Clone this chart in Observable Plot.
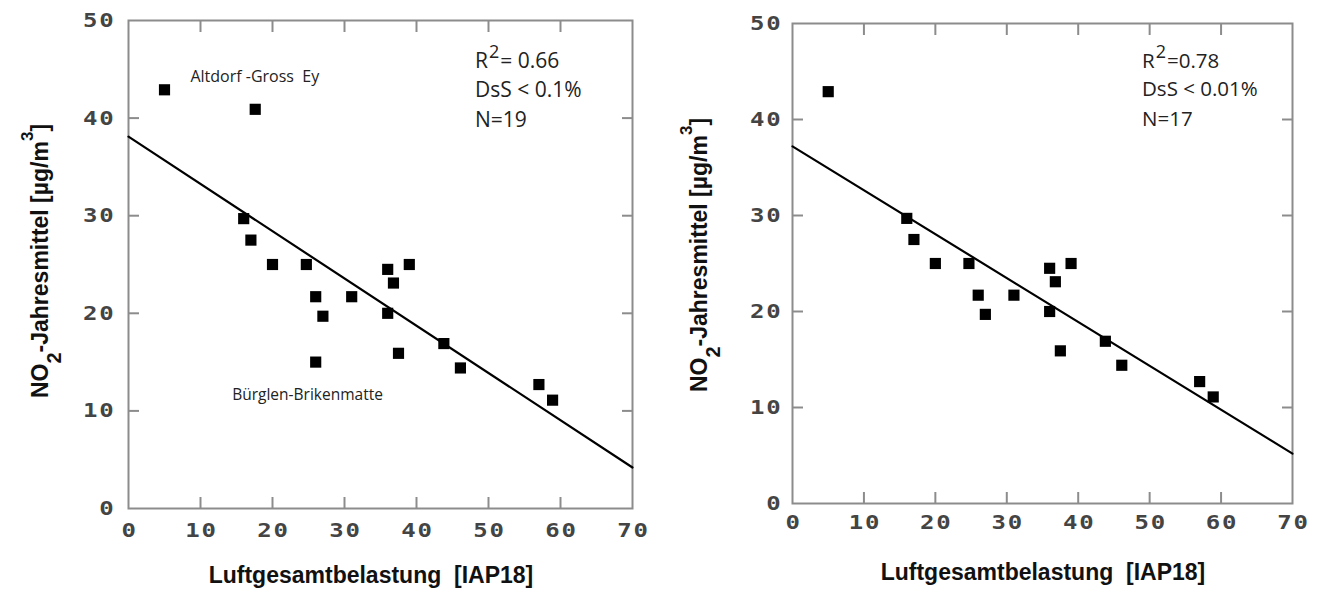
<!DOCTYPE html>
<html><head><meta charset="utf-8">
<script src="https://cdn.jsdelivr.net/npm/d3@7"></script>
<script src="https://cdn.jsdelivr.net/npm/@observablehq/plot@0.6"></script>
<style>
html,body{margin:0;padding:0;background:#fff;}
#wrap{display:flex;width:1320px;height:593px;overflow:hidden;}
#wrap svg{display:block;flex:none;}
</style></head><body><div id="wrap"></div>
<script>
// ---- data ----
const xTickValues = [0, 10, 20, 30, 40, 50, 60, 70];
const yTickValues = [0, 10, 20, 30, 40, 50];

const leftLoad = [5, 17.6, 16, 17, 20, 24.7, 26, 27, 26, 31, 36, 36.8, 39, 36, 37.5, 43.8, 46.1, 57, 58.9];
const leftNO2  = [42.9, 40.9, 29.7, 27.5, 25, 25, 21.7, 19.7, 15, 21.7, 24.5, 23.1, 25, 20, 15.9, 16.9, 14.4, 12.7, 11.1];

const rightLoad = [5, 16, 17, 20, 24.7, 26, 27, 31, 36, 36.8, 39, 36, 37.5, 43.8, 46.1, 57, 58.9];
const rightNO2  = [42.9, 29.7, 27.5, 25, 25, 21.7, 19.7, 21.7, 24.5, 23.1, 25, 20, 15.9, 16.9, 14.4, 12.7, 11.1];

const fitX = [0, 70];
const leftFitY = [38.1, 4.2];
const rightFitY = [37.2, 5.2];

const leftStats = ["= 0.66", "DsS < 0.1%", "N=19"];
const rightStats = ["=0.78", "DsS < 0.01%", "N=17"];
const siteLabels = ["Altdorf -Gross  Ey", "Bürglen-Brikenmatte"];

const xTitle = "Luftgesamtbelastung  [IAP18]";

// ---- drawing ----
const FRAME = "#8c8c8c";
const TICKTXT = "#444";
const tickFont = {fontSize: 20, fontFamily: "DejaVu Sans Mono", fontWeight: "bold", fill: TICKTXT, color: TICKTXT};

function panel(cfg) {
  const pts = cfg.load.map((v, i) => ({x: v, y: cfg.no2[i]}));
  const fit = fitX.map((v, i) => ({x: v, y: cfg.fitY[i]}));
  const inner = {tickSize: -11, tickFormat: () => "", stroke: FRAME, color: FRAME, strokeWidth: 2, label: null};
  const marks = [
    Plot.frame({stroke: FRAME, strokeWidth: 2}),
    Plot.axisX(xTickValues.slice(1, -1), {anchor: "bottom", ...inner}),
    Plot.axisX(xTickValues.slice(1, -1), {anchor: "top", ...inner}),
    Plot.axisY(yTickValues.slice(1, -1), {anchor: "left", ...inner}),
    Plot.axisY(yTickValues.slice(1, -1), {anchor: "right", ...inner}),
    Plot.axisX(xTickValues, {anchor: "bottom", tickSize: 0, tickPadding: cfg.xPad, label: null, dx: 1, ...tickFont}),
    Plot.axisY(yTickValues, {anchor: "left", tickSize: 0, tickPadding: cfg.yPad, label: null, ...tickFont}),
    Plot.line(fit, {x: "x", y: "y", stroke: "black", strokeWidth: 2.2}),
    Plot.dot(pts, {x: "x", y: "y", symbol: "square", r: 6.3, fill: "black", stroke: "none"}),
    ...(cfg.annotations || [])
  ];
  const svg = Plot.plot({
    width: 660, height: 593,
    marginLeft: cfg.ml, marginTop: cfg.mt, marginRight: cfg.mr, marginBottom: cfg.mb,
    x: {domain: [0, 70], label: null},
    y: {domain: [0, 50], label: null},
    style: {background: "white", overflow: "visible"},
    marks
  });
  const s = d3.select(svg);
  // wide square-ish tick digits
  s.selectAll('g[aria-label="x-axis tick label"] text, g[aria-label="y-axis tick label"] text')
    .attr("letter-spacing", 1.5)
    .each(function() {
      const tr = this.getAttribute("transform");
      if (tr && tr.includes("translate")) {
        this.setAttribute("transform", tr + " scale(1.2,1)");
      } else {
        const x = +(this.getAttribute("x") || 0), y = +(this.getAttribute("y") || 0);
        this.removeAttribute("x"); this.removeAttribute("y");
        this.setAttribute("transform", `translate(${x},${y}) scale(1.2,1)`);
      }
    });

  // stats block
  const st = cfg.stats;
  const t0 = s.append("text").attr("x", cfg.statX).attr("y", cfg.statY[0]).attr("text-anchor", "start")
    .attr("font-family", "Open Sans").attr("font-size", cfg.statSize).attr("fill", "#222");
  t0.append("tspan").text("R");
  t0.append("tspan").text("2").attr("font-size", 18).attr("dy", -10).attr("dx", 1);
  t0.append("tspan").text(st[0]).attr("dy", 10).attr("dx", 1);
  for (let i = 1; i < st.length; i++) {
    s.append("text").attr("x", cfg.statX).attr("y", cfg.statY[i]).attr("text-anchor", "start")
      .attr("font-family", "Open Sans").attr("font-size", cfg.statSize).attr("fill", "#222").text(st[i]);
  }
  // y title
  const yt = s.append("text")
    .attr("transform", `translate(${cfg.yTitle[0]},${cfg.yTitle[1]}) rotate(-90)`)
    .attr("text-anchor", "middle").attr("font-family", "Liberation Sans").attr("font-weight", "bold")
    .attr("font-size", 23).attr("fill", "#111");
  yt.append("tspan").text("NO");
  yt.append("tspan").text("2").attr("font-size", 20).attr("dy", 13);
  yt.append("tspan").text("-Jahresmittel [µg/m").attr("dy", -13);
  yt.append("tspan").text("3").attr("font-size", 17).attr("dy", -15);
  yt.append("tspan").text("]").attr("dy", 15);
  // x title
  s.append("text").attr("x", cfg.xTitle[0]).attr("y", cfg.xTitle[1])
    .attr("text-anchor", "middle").attr("font-family", "Liberation Sans").attr("font-weight", "bold")
    .attr("font-size", 23).attr("fill", "#111").style("white-space", "pre").text(xTitle);
  return svg;
}

const annFont = {fontFamily: "Open Sans", fill: "#222", textAnchor: "start", lineAnchor: "middle"};
const left = panel({
  load: leftLoad, no2: leftNO2, fitY: leftFitY, stats: leftStats,
  ml: 128, mt: 20, mr: 28, mb: 85, xPad: 14, yPad: 13,
  statX: 475, statY: [68, 97, 127], statSize: 21,
  yTitle: [48, 261], xTitle: [371, 583],
  annotations: [
    Plot.text([siteLabels[0]], {x: 8.6, y: 44.2, text: d => d, fontSize: 16, ...annFont}),
    Plot.text([siteLabels[1]], {x: 14.4, y: 11.6, text: d => d, fontSize: 15.5, ...annFont})
  ]
});
const right = panel({
  load: rightLoad, no2: rightNO2, fitY: rightFitY, stats: rightStats,
  ml: 132, mt: 23, mr: 28, mb: 90, xPad: 11, yPad: 10,
  statX: 482, statY: [68, 96, 126], statSize: 20.5,
  yTitle: [47, 255], xTitle: [383, 580]
});
// keep whitespace in site labels
d3.select(left).selectAll('g[aria-label="text"] text').style("white-space", "pre");
document.getElementById("wrap").append(left, right);
</script>
</body></html>
